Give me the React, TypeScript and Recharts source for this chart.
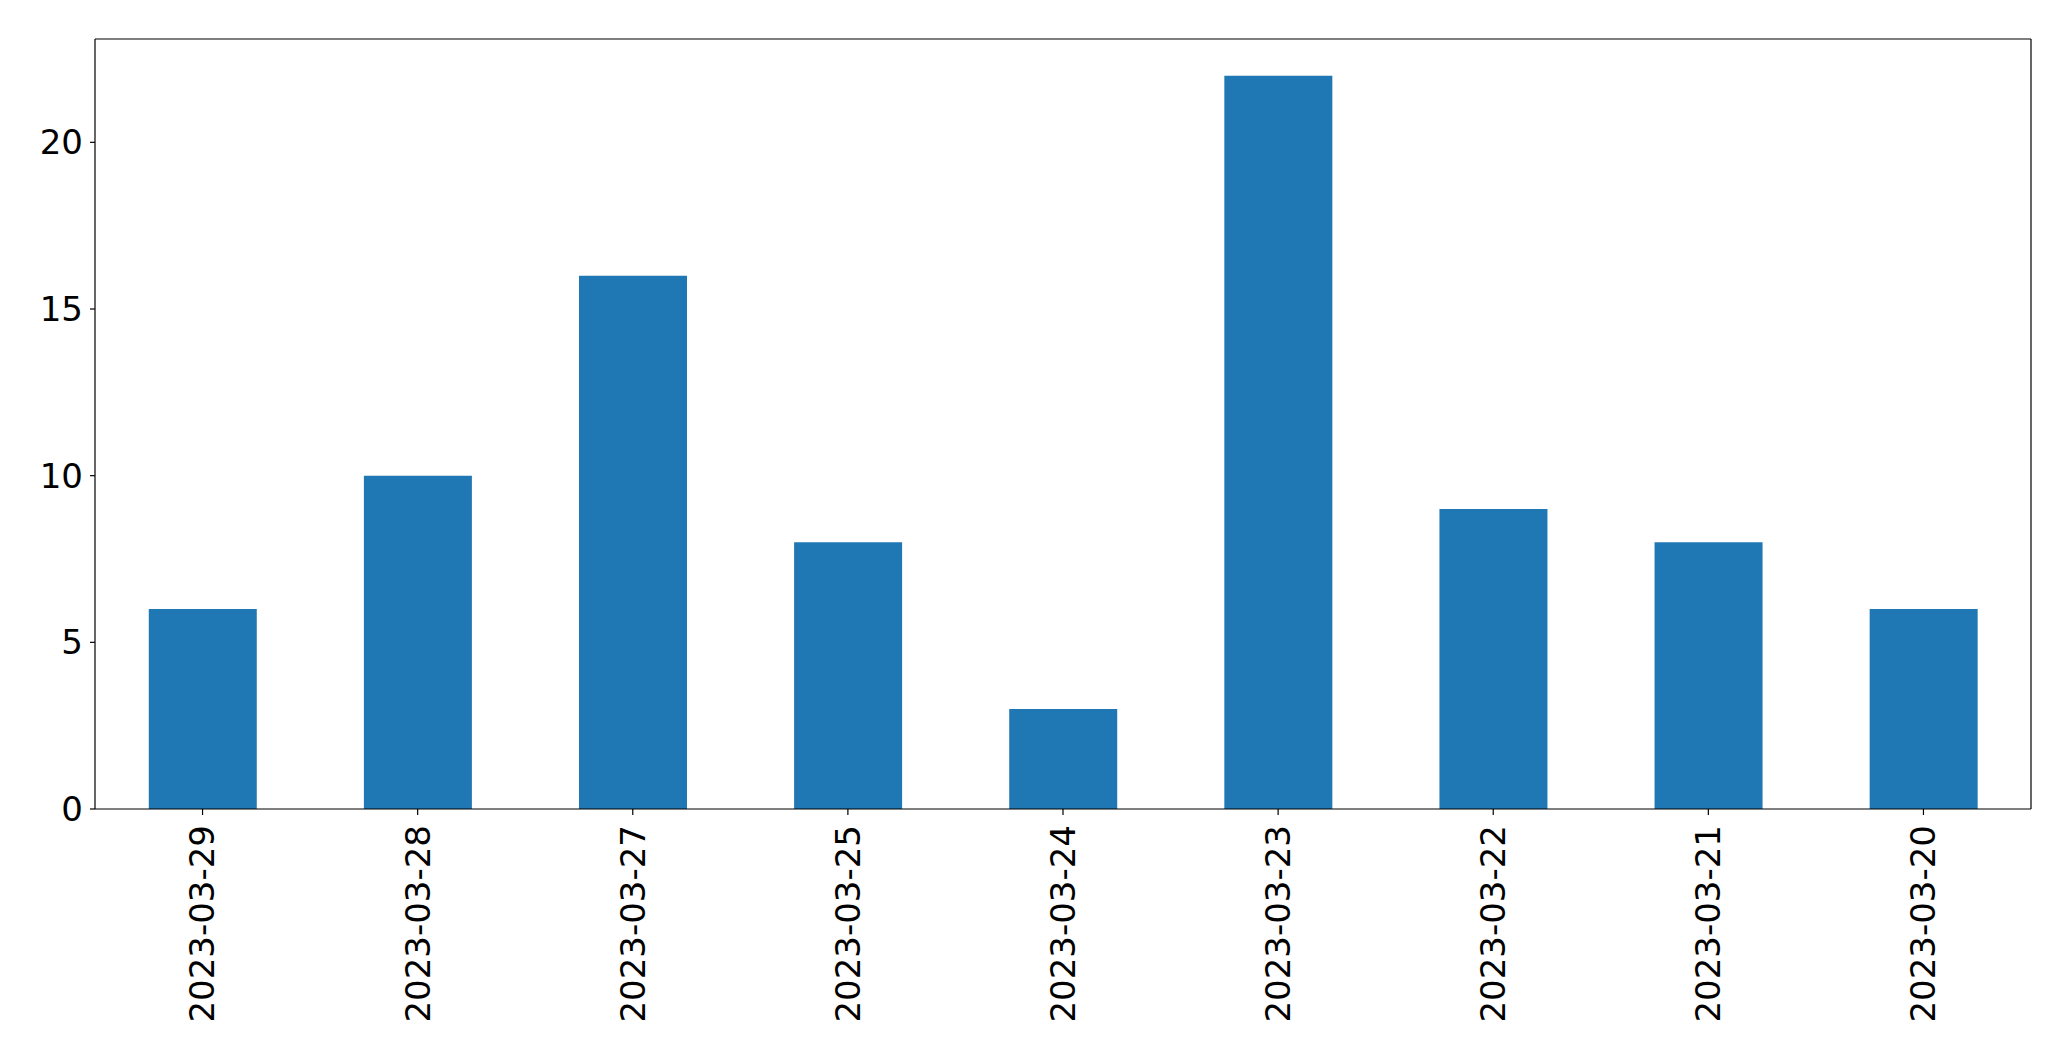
import { Bar, BarChart, ReferenceLine, XAxis, YAxis } from 'recharts';

const dates = [
  '2023-03-29',
  '2023-03-28',
  '2023-03-27',
  '2023-03-25',
  '2023-03-24',
  '2023-03-23',
  '2023-03-22',
  '2023-03-21',
  '2023-03-20',
];
const counts = [6, 10, 16, 8, 3, 22, 9, 8, 6];
const yTicks = [0, 5, 10, 15, 20];
const yMax = 23.1;

const data = dates.map((date, i) => ({ date, count: counts[i] }));

const FONT = '"DejaVu Sans", sans-serif';
const AXIS = { stroke: '#000', strokeWidth: 1.2 };

function RotatedTick({ x, y, payload }: any) {
  return (
    <text
      x={x}
      y={y}
      dy="0.35em"
      transform={`rotate(-90, ${x}, ${y})`}
      textAnchor="end"
      fontSize={34}
      fontFamily={FONT}
      fill="#000"
    >
      {payload.value}
    </text>
  );
}

export default function App() {
  return (
    <div style={{ position: 'absolute', left: 0, top: 0, background: '#fff' }}>
      <BarChart
        width={2071}
        height={1061}
        data={data}
        margin={{ top: 39, right: 39, left: 15, bottom: 12 }}
        barCategoryGap="25%"
      >
        <XAxis
          dataKey="date"
          interval={0}
          height={240}
          tickSize={6}
          tickMargin={10}
          axisLine={AXIS}
          tickLine={AXIS}
          tick={<RotatedTick />}
        />
        <YAxis
          domain={[0, yMax]}
          ticks={yTicks}
          width={80}
          tickSize={5}
          tickMargin={7}
          axisLine={AXIS}
          tickLine={AXIS}
          tick={{ fontSize: 34, fontFamily: FONT, fill: '#000' }}
        />
        <YAxis
          yAxisId="right"
          orientation="right"
          width={1}
          domain={[0, yMax]}
          tick={false}
          tickLine={false}
          axisLine={AXIS}
        />
        <ReferenceLine y={yMax} stroke="#000" strokeWidth={1.2} />
        <Bar dataKey="count" fill="#1f77b4" isAnimationActive={false} />
      </BarChart>
    </div>
  );
}
